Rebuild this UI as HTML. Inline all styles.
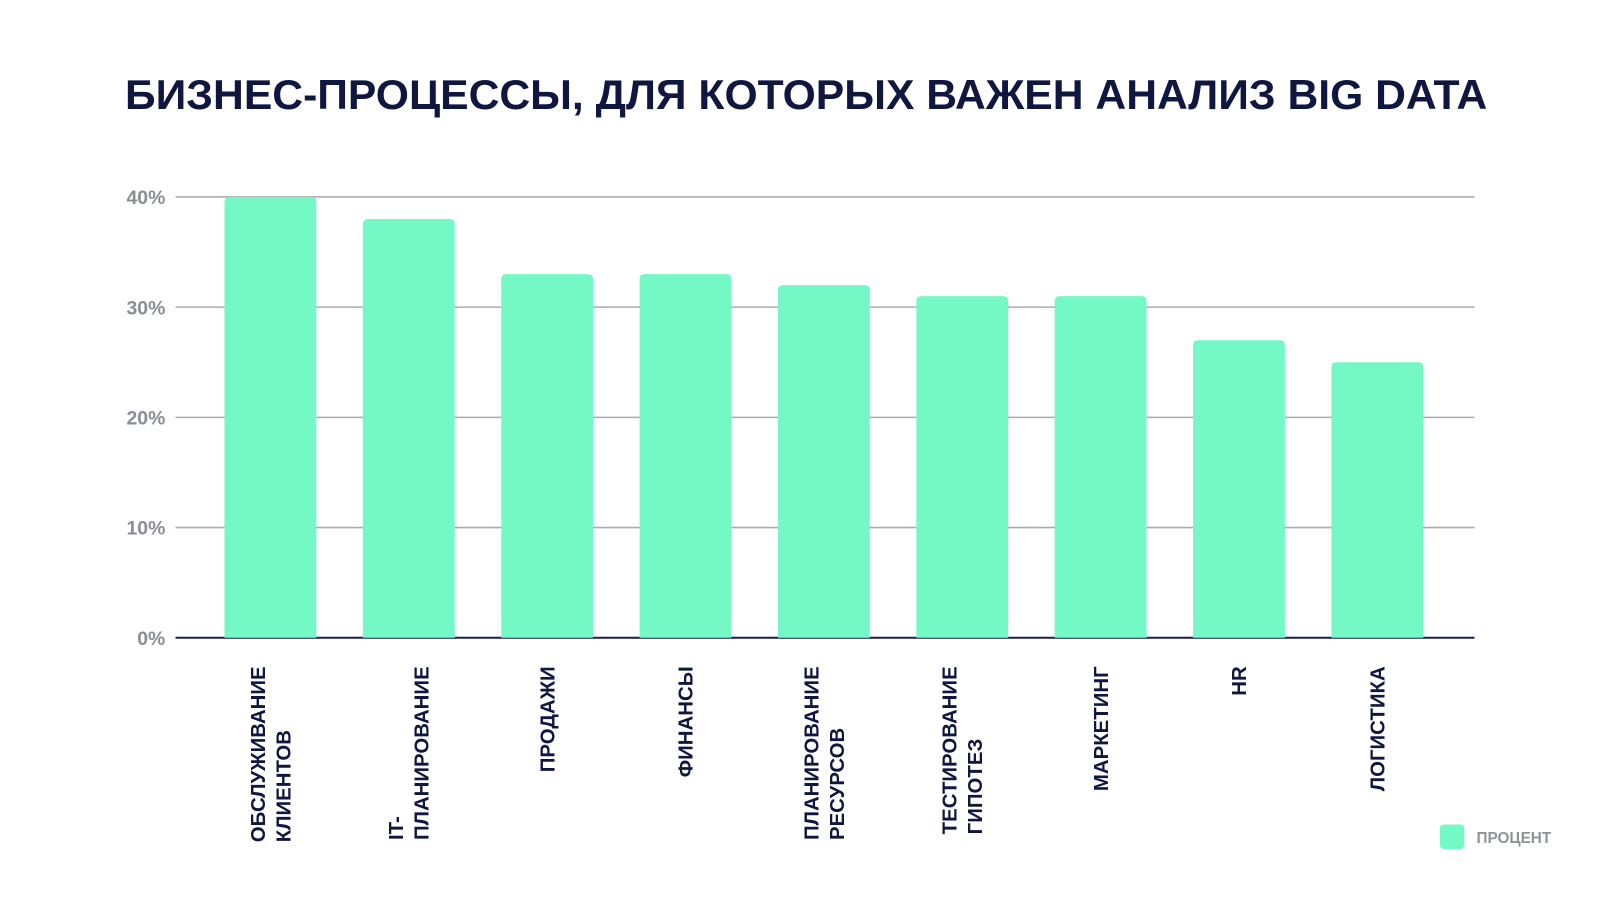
<!DOCTYPE html>
<html><head><meta charset="utf-8"><style>
body{margin:0;background:#fff;}
svg text{font-family:"Liberation Sans","DejaVu Sans",sans-serif;}
</style></head><body>
<svg id="chart" width="1600" height="900" viewBox="0 0 1568 882" xmlns="http://www.w3.org/2000/svg">
<rect width="1568" height="882" fill="#fff"/>
<text x="790" y="107" text-anchor="middle" font-size="41" font-weight="bold" fill="#0f1640" textLength="1335" lengthAdjust="spacingAndGlyphs">БИЗНЕС-ПРОЦЕССЫ, ДЛЯ КОТОРЫХ ВАЖЕН АНАЛИЗ BIG DATA</text>
<g id="grid"></g><g id="bars"></g><g id="xlabels"></g>
<rect x="1411" y="808" width="24" height="24" rx="4" fill="#74f8c6"/>
<text x="1447" y="826" font-size="15" font-weight="bold" fill="#8f9296">ПРОЦЕНТ</text>
</svg>
<script>
const categories=[["ОБСЛУЖИВАНИЕ","КЛИЕНТОВ"],["IT-","ПЛАНИРОВАНИЕ"],["ПРОДАЖИ"],["ФИНАНСЫ"],["ПЛАНИРОВАНИЕ","РЕСУРСОВ"],["ТЕСТИРОВАНИЕ","ГИПОТЕЗ"],["МАРКЕТИНГ"],["HR"],["ЛОГИСТИКА"]];
const values=[40,38,33,33,32,31,31,27,25];
const ticks=[0,10,20,30,40];
const tickLabels=["0%","10%","20%","30%","40%"];
const NS="http://www.w3.org/2000/svg";
const y0=625,pxPer=10.8,x0=265,step=135.6,bw=90;
const yS=v=>y0-v*pxPer, xS=i=>x0+i*step;
function mk(t,a,p){const e=document.createElementNS(NS,t);for(const k in a)e.setAttribute(k,a[k]);p.appendChild(e);return e;}
const grid=document.getElementById('grid');
ticks.forEach((t,i)=>{
 const l=mk('line',{x1:172,x2:1445,y1:yS(t),y2:yS(t),stroke:i==0?'#1b1f4a':'#a9abae','stroke-width':i==0?2:1.5},grid);
 
 
 const tx=mk('text',{x:162,y:yS(t)+7,'text-anchor':'end','font-size':19,'font-weight':'bold',fill:'#8a8d92'},grid);
 tx.textContent=tickLabels[i];
 
 
});
const bars=document.getElementById('bars');
values.forEach((v,i)=>{
 const x=xS(i)-bw/2,y=yS(v);
 const p=mk('path',{d:`M${x},${y0}V${y+5}Q${x},${y} ${x+5},${y}H${x+bw-5}Q${x+bw},${y} ${x+bw},${y+5}V${y0}Z`,fill:'#74f8c6'},bars);
 
 
});
const xl=document.getElementById('xlabels');
categories.forEach((lines,i)=>{
 const g=mk('g',{},xl);
 
 
 const els=lines.map(s=>{const t=mk('text',{'font-size':20,'font-weight':'bold',fill:'#0f1640'},g);t.textContent=s;return t;});
 const maxLen=Math.max(...els.map(e=>e.getComputedTextLength()));
 const ys=653+maxLen;
 els.forEach((e,j)=>{
  const cx=xS(i)+(j-(lines.length-1)/2)*25+7;
  e.setAttribute('transform',`translate(${cx},${ys}) rotate(-90)`);
 });
});
</script>
</body></html>
